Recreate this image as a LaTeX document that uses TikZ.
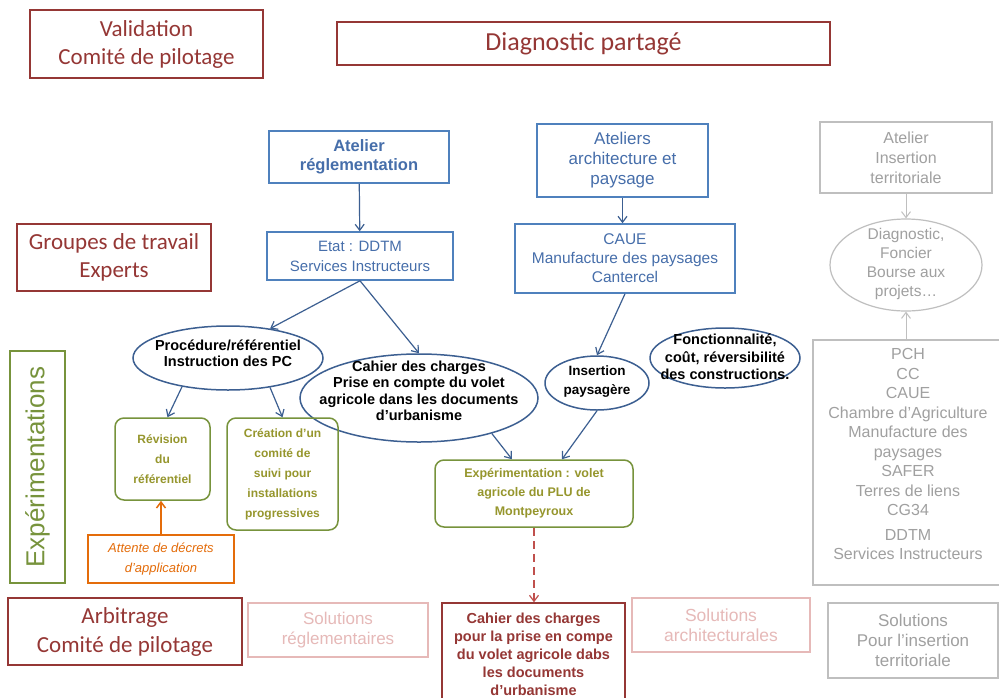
\documentclass[tikz,border=0pt]{standalone}
\usepackage{fontspec}
\setmainfont{Liberation Sans}
\newfontfamily\calibriFont{Carlito}
\usetikzlibrary{shapes.geometric}
\usetikzlibrary{arrows.meta}
\definecolor{titleRed}{RGB}{149,55,53}
\definecolor{dashRed}{RGB}{192,80,77}
\definecolor{boxBlue}{RGB}{79,129,189}
\definecolor{textBlue}{RGB}{70,110,170}
\definecolor{ellBlue}{RGB}{60,95,145}
\definecolor{expGreen}{RGB}{119,147,60}
\definecolor{greenText}{RGB}{150,150,45}
\definecolor{attOrange}{RGB}{228,108,10}
\definecolor{greyLine}{RGB}{191,191,191}
\definecolor{greyText}{RGB}{160,160,160}
\definecolor{pinkLine}{RGB}{230,185,184}
\newcommand{\fsize}[2]{\fontsize{#1}{#2}\selectfont}

\begin{document}
\begin{tikzpicture}[%%
  x=1pt,y=-1pt,
  >={Straight Barb[length=6pt,width=9pt]},
  titleStyle/.style={draw=titleRed,line width=1.5pt,text=titleRed,align=center,inner sep=0pt,font=\calibriFont\fsize{23}{28}},%%
  blueBoxStyle/.style={draw=boxBlue,line width=1.5pt,text=textBlue,align=center,inner sep=0pt},%%
  ellStyle/.style={ellipse,draw=ellBlue,line width=1.5pt,inner sep=0pt},%%
  ellText/.style={align=center,inner sep=0pt,font=\bfseries\fsize{14.5}{16.5}},%%
  greenStyle/.style={draw=expGreen,line width=1.5pt,rounded corners=9pt,text=greenText,align=center,inner sep=0pt,font=\bfseries\fsize{12}{20}},%%
  greyStyle/.style={draw=greyLine,line width=1.2pt,text=greyText,align=center,inner sep=0pt},%%
  pinkStyle/.style={draw=pinkLine,line width=1.2pt,text=pinkLine,align=center,inner sep=0pt,font=\fsize{17}{20}},%%
  blueArrow/.style={->,draw=ellBlue,line width=1.2pt},%%
  greyArrow/.style={->,draw=greyLine,line width=1pt}%%
]
%%
%%
\useasboundingbox[fill=white] (0,0) rectangle (999,697);
%% The committee boxes on the left and the title.
\node[titleStyle,minimum width=233pt,minimum height=68pt] (validation) at (146.5,44) {Validation\\Comité de pilotage};
\node[titleStyle,minimum width=493pt,minimum height=43pt,font=\calibriFont\fsize{26}{30}] (diagnostic) at (583.5,43.5) {Diagnostic partagé};
\node[titleStyle,minimum width=194pt,minimum height=67pt] (groupes) at (114,257.5) {Groupes de travail\\Experts};
\node[titleStyle,minimum width=234pt,minimum height=67pt,font=\calibriFont\fsize{23}{29}] (arbitrage) at (125,631.5) {Arbitrage\\Comité de pilotage};
\node[draw=expGreen,line width=1.5pt,text=expGreen,rotate=90,inner sep=0pt,minimum width=232pt,minimum height=55pt,font=\fsize{26}{30}] (experimentations) at (37.5,467) {Expérimentations};
%%
%% The workshops.
\node[blueBoxStyle,minimum width=180pt,minimum height=52pt,font=\bfseries\fsize{16.5}{19}] (ateReg) at (359,157) {Atelier\\réglementation};
\node[blueBoxStyle,minimum width=186pt,minimum height=48pt,font=\fsize{15}{20}] (etat) at (360,256) {Etat : DDTM\\Services Instructeurs};
\node[blueBoxStyle,minimum width=171pt,minimum height=73pt,font=\fsize{17}{20}] (ateArch) at (622.5,160.5) {Ateliers\\architecture et\\paysage};
\node[blueBoxStyle,minimum width=220pt,minimum height=69pt,font=\fsize{15.5}{19}] (caue) at (625,258.5) {CAUE\\Manufacture des paysages\\Cantercel};
%%
%% The ellipses, drawn first and then filled with their texts.
\node[ellStyle,minimum width=190pt,minimum height=64pt] (proc) at (228,358) {};
\node[ellText] (procText) at (228,353) {Procédure/référentiel\\Instruction des PC};
\node[ellStyle,minimum width=238pt,minimum height=88pt] (cahEll) at (419,398) {};
\node[ellText] (cahText) at (419,391) {Cahier des charges\\Prise en compte du volet\\agricole dans les documents\\d’urbanisme};
\node[ellStyle,minimum width=104pt,minimum height=54pt] (insP) at (597,383) {};
\node[ellText,font=\bfseries\fsize{13.5}{19}] (insText) at (597,382) {Insertion\\paysagère};
\node[ellStyle,minimum width=150pt,minimum height=60pt] (fonc) at (725,358) {};
\node[ellText,font=\bfseries\fsize{14.5}{17.5}] (foncText) at (725,357) {Fonctionnalité,\\coût, réversibilité\\des constructions.};
%%
%% The experiments.
\node[greenStyle,minimum width=95pt,minimum height=82pt] (rev) at (162.5,459) {Révision\\du\\référentiel};
\node[greenStyle,minimum width=111pt,minimum height=112pt] (cre) at (282.5,474) {Création d’un\\comité de\\suivi pour\\installations\\progressives};
\node[greenStyle,minimum width=198pt,minimum height=67pt,font=\bfseries\fsize{12.5}{19}] (exp) at (534,493.5) {Expérimentation : volet\\agricole du PLU de\\Montpeyroux};
\node[draw=attOrange,line width=1.5pt,text=attOrange,align=center,inner sep=0pt,minimum width=146pt,minimum height=48pt,font=\itshape\fsize{13}{20}] (att) at (161,559) {Attente de décrets\\d’application};
%%
%% The solutions.
\node[pinkStyle,minimum width=180pt,minimum height=54pt] (solReg) at (338,630) {Solutions\\réglementaires};
\node[draw=titleRed,line width=1.5pt,text=titleRed,align=center,inner sep=0pt,minimum width=183pt,minimum height=102pt,font=\bfseries\fsize{14.5}{18}] (cahRed) at (533.5,654) {Cahier des charges\\pour la prise en compe\\du volet agricole dabs\\les documents\\d’urbanisme};
\node[pinkStyle,minimum width=178pt,minimum height=54pt,font=\fsize{17.5}{20}] (solArch) at (721,625) {Solutions\\architecturales};
%%
%% The territorial workshop, in grey.
\node[greyStyle,minimum width=172pt,minimum height=71pt,font=\fsize{16}{20}] (ateIns) at (906,157.5) {Atelier\\Insertion\\territoriale};
\node[ellipse,draw=greyLine,line width=1.2pt,inner sep=0pt,minimum width=152pt,minimum height=92pt] (diagEll) at (906,265) {};
\node[text=greyText,align=center,inner sep=0pt,font=\fsize{15.5}{19}] (diagText) at (906,264) {Diagnostic,\\Foncier\\Bourse aux\\projets…};
\node[greyStyle,minimum width=190pt,minimum height=245pt] (pch) at (908,462.5) {};
\node[text=greyText,align=center,inner sep=0pt,font=\fsize{16}{19.5}] (pchText) at (908,454) {PCH\\CC\\CAUE\\Chambre d’Agriculture\\Manufacture des\\paysages\\SAFER\\Terres de liens\\CG34\\[5pt]DDTM\\Services Instructeurs};
\node[greyStyle,minimum width=170pt,minimum height=75pt,font=\fsize{17}{20}] (solIns) at (913,640.5) {Solutions\\Pour l’insertion\\territoriale};
%%
%% The connectors.
\draw[blueArrow] (ateReg) -- (etat);
\draw[blueArrow] (ateArch.south) -- (ateArch.south |- caue.north);
\draw[blueArrow] (etat.south) -- (proc.35);
\draw[blueArrow] (etat.south) -- (cahEll.north);
\draw[blueArrow] (proc.212) -- ([xshift=5pt]rev.north);
\draw[blueArrow] (proc.-35) -- (cre.north);
\draw[blueArrow] (cahEll.-26) -- ([xshift=-22pt]exp.north);
\draw[blueArrow] (caue.south) -- (insP.north);
\draw[blueArrow] (insP.south) -- ([xshift=28pt]exp.north);
\draw[->,draw=attOrange,line width=1.5pt] (att.north) -- (att.north |- rev.south);
\draw[->,draw=dashRed,line width=1.2pt,dash pattern=on 8pt off 5pt] (exp.south) -- (exp.south |- cahRed.north);
\draw[greyArrow] (ateIns) -- (diagEll);
\draw[greyArrow] (pch.north -| diagEll.south) -- (diagEll.south);
\end{tikzpicture}
\end{document}
